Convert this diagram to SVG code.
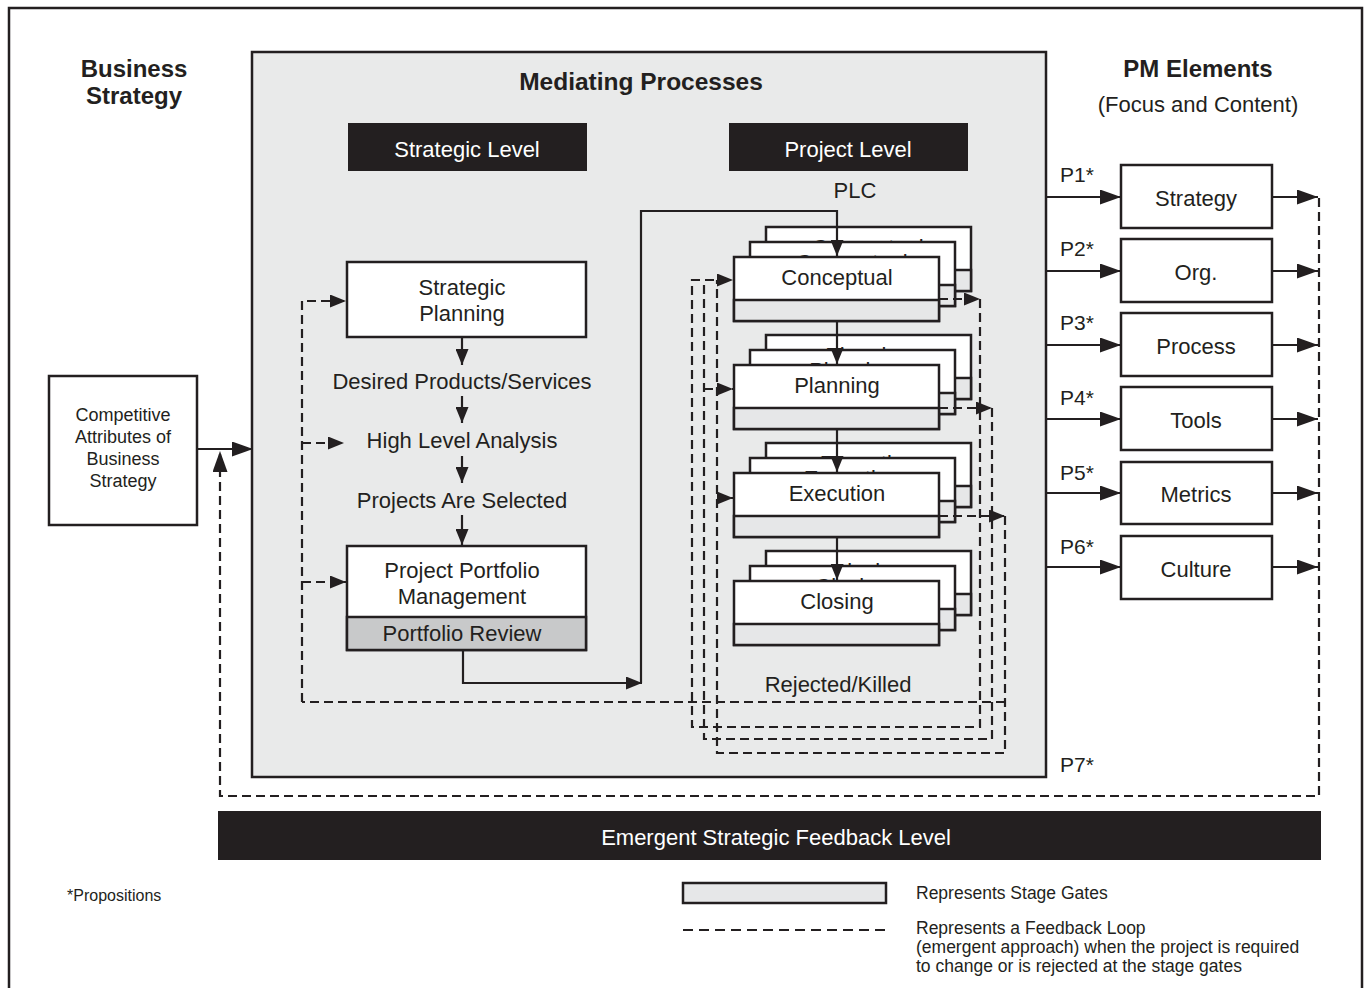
<svg xmlns="http://www.w3.org/2000/svg" xmlns:xlink="http://www.w3.org/1999/xlink" width="1369" height="988" viewBox="0 0 1369 988">
<style>
text{font-family:'Liberation Sans',Arial,sans-serif;fill:#231f20;font-size:22px}
.c{text-anchor:middle}
.b{font-weight:bold}
.w{fill:#fff}
.box{fill:#fff;stroke:#231f20;stroke-width:2.5}
.gate{fill:#e6e7e8;stroke:#231f20;stroke-width:2.5}
.rev{fill:#c8c9ca;stroke:#231f20;stroke-width:2.5}
.bar{fill:#231f20}
.ln{fill:none;stroke:#231f20;stroke-width:2.2}
.dash{fill:none;stroke:#231f20;stroke-width:2.2;stroke-dasharray:9 5}
.sm{font-size:18px}
</style>
<defs>
  <marker id="arr" markerUnits="userSpaceOnUse" markerWidth="16" markerHeight="13" refX="16" refY="6.5" orient="auto">
    <path d="M0,0 L16,6.5 L0,13 z" fill="#231f20"/>
  </marker>
  <marker id="arrL" markerUnits="userSpaceOnUse" markerWidth="21" markerHeight="15" refX="21" refY="7.5" orient="auto">
    <path d="M0,0 L21,7.5 L0,15 z" fill="#231f20"/>
  </marker>
  <!-- one phase card of the project life cycle, with its stage gate strip -->
  <g id="card">
    <rect class="box" width="205" height="64"/>
    <rect class="gate" y="43" width="205" height="21"/>
  </g>
</defs>

<!-- page frame -->
<rect x="9" y="8" width="1353" height="995" fill="#fff" stroke="#231f20" stroke-width="2.5"/>

<!-- headings -->
<g id="business-strategy-title">
  <text class="c b" x="134" y="77" style="font-size:24px">Business</text>
  <text class="c b" x="134" y="104" style="font-size:24px">Strategy</text>
</g>
<g id="pm-elements-title">
  <text class="c b" x="1198" y="77" style="font-size:24px">PM Elements</text>
  <text class="c" x="1198" y="112">(Focus and Content)</text>
</g>

<!-- mediating processes panel -->
<g id="mediating-processes">
  <rect x="252" y="52" width="794" height="725" fill="#e9eaea" stroke="#231f20" stroke-width="2.5"/>
  <text class="c b" x="641" y="90" style="font-size:24.5px">Mediating Processes</text>
</g>
<g id="strategic-level">
  <rect class="bar" x="348" y="123" width="239" height="48"/>
  <text class="c w" x="467" y="157">Strategic Level</text>
</g>
<g id="project-level">
  <rect class="bar" x="729" y="123" width="239" height="48"/>
  <text class="c w" x="848" y="157">Project Level</text>
  <text class="c" x="855" y="198">PLC</text>
</g>

<!-- competitive attributes -->
<g id="competitive-attributes">
  <rect class="box" x="49" y="376" width="148" height="149"/>
  <text class="c sm" x="123" y="421">Competitive</text>
  <text class="c sm" x="123" y="443">Attributes of</text>
  <text class="c sm" x="123" y="465">Business</text>
  <text class="c sm" x="123" y="487">Strategy</text>
</g>

<!-- strategic level flow -->
<g id="strategic-planning">
  <rect class="box" x="347" y="262" width="239" height="75"/>
  <text class="c" x="462" y="295">Strategic</text>
  <text class="c" x="462" y="321">Planning</text>
</g>
<g id="desired-products">
  <text class="c" x="462" y="389">Desired Products/Services</text>
</g>
<g id="high-level-analysis">
  <text class="c" x="462" y="448">High Level Analysis</text>
</g>
<g id="projects-selected">
  <text class="c" x="462" y="508">Projects Are Selected</text>
</g>
<g id="portfolio-management">
  <rect class="box" x="347" y="546" width="239" height="104"/>
  <rect class="rev" x="347" y="617" width="239" height="33"/>
  <text class="c" x="462" y="578">Project Portfolio</text>
  <text class="c" x="462" y="604">Management</text>
  <text class="c" x="462" y="641">Portfolio Review</text>
</g>
<g id="rejected-killed">
  <text class="c" x="838" y="692">Rejected/Killed</text>
</g>

<!-- project life cycle phases, each stacked three deep -->
<g id="phase-conceptual">
  <use xlink:href="#card" x="766" y="227"/><text class="c" x="868" y="255">Conceptual</text>
  <use xlink:href="#card" x="750" y="242"/><text class="c" x="852" y="270">Conceptual</text>
  <use xlink:href="#card" x="734" y="257"/><text class="c" x="837" y="285">Conceptual</text>
</g>
<g id="phase-planning">
  <use xlink:href="#card" x="766" y="335"/><text class="c" x="868" y="363">Planning</text>
  <use xlink:href="#card" x="750" y="350"/><text class="c" x="852" y="378">Planning</text>
  <use xlink:href="#card" x="734" y="365"/><text class="c" x="837" y="393">Planning</text>
</g>
<g id="phase-execution">
  <use xlink:href="#card" x="766" y="443"/><text class="c" x="868" y="471">Execution</text>
  <use xlink:href="#card" x="750" y="458"/><text class="c" x="852" y="486">Execution</text>
  <use xlink:href="#card" x="734" y="473"/><text class="c" x="837" y="501">Execution</text>
</g>
<g id="phase-closing">
  <use xlink:href="#card" x="766" y="551"/><text class="c" x="868" y="579">Closing</text>
  <use xlink:href="#card" x="750" y="566"/><text class="c" x="852" y="594">Closing</text>
  <use xlink:href="#card" x="734" y="581"/><text class="c" x="837" y="609">Closing</text>
</g>

<!-- PM elements -->
<g id="pm-strategy"><rect class="box" x="1121" y="165" width="151" height="63"/><text class="c" x="1196" y="206">Strategy</text></g>
<g id="pm-org"><rect class="box" x="1121" y="239" width="151" height="63"/><text class="c" x="1196" y="280">Org.</text></g>
<g id="pm-process"><rect class="box" x="1121" y="313" width="151" height="63"/><text class="c" x="1196" y="354">Process</text></g>
<g id="pm-tools"><rect class="box" x="1121" y="387" width="151" height="63"/><text class="c" x="1196" y="428">Tools</text></g>
<g id="pm-metrics"><rect class="box" x="1121" y="462" width="151" height="62"/><text class="c" x="1196" y="502">Metrics</text></g>
<g id="pm-culture"><rect class="box" x="1121" y="536" width="151" height="63"/><text class="c" x="1196" y="577">Culture</text></g>

<g id="proposition-labels">
  <text x="1060" y="182" style="font-size:21px">P1*</text>
  <text x="1060" y="256" style="font-size:21px">P2*</text>
  <text x="1060" y="330" style="font-size:21px">P3*</text>
  <text x="1060" y="405" style="font-size:21px">P4*</text>
  <text x="1060" y="480" style="font-size:21px">P5*</text>
  <text x="1060" y="554" style="font-size:21px">P6*</text>
  <text x="1060" y="772" style="font-size:21px">P7*</text>
</g>

<!-- emergent feedback bar -->
<g id="emergent-feedback">
  <rect class="bar" x="218" y="811" width="1103" height="49"/>
  <text class="c w" x="776" y="845">Emergent Strategic Feedback Level</text>
</g>

<!-- connectors -->
<g id="connectors">
  <!-- business strategy into mediating processes -->
  <path class="ln" d="M197,449 H253" marker-end="url(#arrL)"/>
  <!-- strategic level chain -->
  <path class="ln" d="M462,337 V365" marker-end="url(#arr)"/>
  <path class="ln" d="M462,396 V423" marker-end="url(#arr)"/>
  <path class="ln" d="M462,456 V483" marker-end="url(#arr)"/>
  <path class="ln" d="M462,515 V545" marker-end="url(#arr)"/>
  <!-- portfolio review hands over to the project life cycle -->
  <path class="ln" d="M463,650 V683 H642" marker-end="url(#arr)"/>
  <path class="ln" d="M641,683 V211 H837 V256" marker-end="url(#arr)"/>
  <path class="ln" d="M837,321 V364" marker-end="url(#arr)"/>
  <path class="ln" d="M837,429 V472" marker-end="url(#arr)"/>
  <path class="ln" d="M837,537 V580" marker-end="url(#arr)"/>

  <!-- strategic level feedback -->
  <path class="dash" d="M302,702 V301 H346" marker-end="url(#arr)"/>
  <path class="dash" d="M302,443 H344" marker-end="url(#arr)"/>
  <path class="dash" d="M302,582 H346" marker-end="url(#arr)"/>
  <path class="dash" d="M1005,702 H302"/>

  <!-- stage gate feedback loops -->
  <path class="dash" d="M939,299 H980" marker-end="url(#arr)"/>
  <path class="dash" d="M980,299 V727 H692 V280 H733" marker-end="url(#arr)"/>
  <path class="dash" d="M939,408 H992" marker-end="url(#arr)"/>
  <path class="dash" d="M992,408 V739 H704 V280"/>
  <path class="dash" d="M704,389 H733" marker-end="url(#arr)"/>
  <path class="dash" d="M939,516 H1005" marker-end="url(#arr)"/>
  <path class="dash" d="M1005,516 V753 H717 V280"/>
  <path class="dash" d="M717,498 H733" marker-end="url(#arr)"/>

  <!-- mediating processes out to PM elements -->
  <path class="ln" d="M1046,197 H1121" marker-end="url(#arrL)"/>
  <path class="ln" d="M1046,271 H1121" marker-end="url(#arrL)"/>
  <path class="ln" d="M1046,345 H1121" marker-end="url(#arrL)"/>
  <path class="ln" d="M1046,419 H1121" marker-end="url(#arrL)"/>
  <path class="ln" d="M1046,493 H1121" marker-end="url(#arrL)"/>
  <path class="ln" d="M1046,567 H1121" marker-end="url(#arrL)"/>
  <!-- PM elements into emergent feedback -->
  <path class="ln" d="M1272,197 H1318" marker-end="url(#arrL)"/>
  <path class="ln" d="M1272,271 H1318" marker-end="url(#arrL)"/>
  <path class="ln" d="M1272,345 H1318" marker-end="url(#arrL)"/>
  <path class="ln" d="M1272,419 H1318" marker-end="url(#arrL)"/>
  <path class="ln" d="M1272,493 H1318" marker-end="url(#arrL)"/>
  <path class="ln" d="M1272,567 H1318" marker-end="url(#arrL)"/>
  <path class="dash" d="M1319,198 V796 H220 V451" marker-end="url(#arrL)"/>
</g>

<!-- legend -->
<g id="legend">
  <text x="67" y="901" style="font-size:16px">*Propositions</text>
  <rect class="gate" x="683" y="883" width="203" height="20"/>
  <text x="916" y="899" style="font-size:17.5px">Represents Stage Gates</text>
  <path class="dash" d="M683,930 H886" style="stroke-dasharray:10 6"/>
  <text x="916" y="934" style="font-size:17.5px">Represents a Feedback Loop</text>
  <text x="916" y="953" style="font-size:17.5px">(emergent approach) when the project is required</text>
  <text x="916" y="972" style="font-size:17.5px">to change or is rejected at the stage gates</text>
</g>
</svg>
